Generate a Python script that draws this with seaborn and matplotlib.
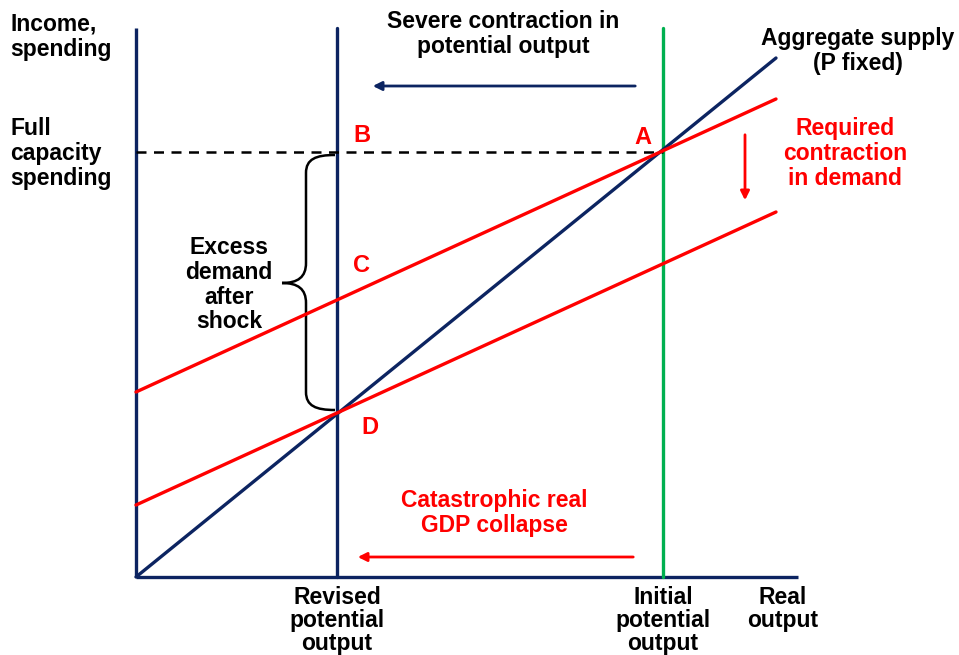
import numpy as np
import pandas as pd
import matplotlib.pyplot as plt
from matplotlib.path import Path
from matplotlib.patches import PathPatch
import seaborn as sns

sns.set_style("white")
plt.rcParams['font.family'] = ['Liberation Sans', 'DejaVu Sans']
plt.rcParams['font.weight'] = 'bold'
plt.rcParams['text.color'] = 'black'

NAVY = '#0c2461'
RED = '#ff0000'
GREEN = '#00b050'

# data (origin at the axes corner, output to the right, spending upward)
as_x = [0, 640]
as_y = [0, 519]
ad1_x = [0, 640]
ad1_y = [185, 478]
ad2_x = [0, 640]
ad2_y = [72, 365]
revised_x = 201
initial_x = 527
full_cap_y = 425
axis_top = 549
axis_right = 662

points = ['A', 'B', 'C', 'D']
point_x = [507, 226, 226, 234]
point_y = [440, 442, 311, 149]

fig = plt.figure(figsize=(9.59, 6.55), dpi=100)
ax = fig.add_axes([0, 0, 1, 1])
ax.set_xlim(-136, 823)
ax.set_ylim(-78, 577)
ax.axis('off')

lw = 2.4
# axes
ax.plot([0, 0], [0, axis_top], color=NAVY, lw=lw, solid_capstyle='butt')
ax.plot([0, axis_right], [0, 0], color=NAVY, lw=lw, solid_capstyle='butt')

# potential output lines
ax.plot([revised_x, revised_x], [0, axis_top], color=NAVY, lw=lw)
ax.plot([initial_x, initial_x], [0, axis_top], color=GREEN, lw=lw)

# full capacity dashed
ax.plot([0, initial_x], [full_cap_y, full_cap_y], color='black', lw=1.8,
        ls=(0, (4, 3)))

lines = pd.DataFrame({
    'x': as_x + ad1_x + ad2_x,
    'y': as_y + ad1_y + ad2_y,
    'name': ['AS'] * 2 + ['AD1'] * 2 + ['AD2'] * 2,
})
sns.lineplot(data=lines, x='x', y='y', hue='name', units='name', estimator=None,
             palette={'AS': NAVY, 'AD1': RED, 'AD2': RED}, lw=lw,
             legend=False, ax=ax, sort=False)

# arrows
ax.annotate('', xy=(234, 491), xytext=(502, 491),
            arrowprops=dict(arrowstyle='-|>', color=NAVY, lw=2, mutation_scale=13))
ax.annotate('', xy=(219, 20), xytext=(500, 20),
            arrowprops=dict(arrowstyle='-|>', color=RED, lw=2, mutation_scale=13))
ax.annotate('', xy=(609, 374), xytext=(609, 445),
            arrowprops=dict(arrowstyle='-|>', color=RED, lw=2, mutation_scale=13))

# brace
bx, tip_x = 170, 146
top, bot, mid = 422, 167, 294
verts = [(199, top), (180, top), (bx, top - 4), (bx, top - 18),
         (bx, mid + 20),
         (bx, mid + 6), (bx - 8, mid), (tip_x, mid),
         (bx - 8, mid), (bx, mid - 6), (bx, mid - 20),
         (bx, bot + 18),
         (bx, bot + 4), (180, bot), (199, bot)]
codes = [Path.MOVETO, Path.CURVE4, Path.CURVE4, Path.CURVE4,
         Path.LINETO,
         Path.CURVE4, Path.CURVE4, Path.CURVE4,
         Path.CURVE4, Path.CURVE4, Path.CURVE4,
         Path.LINETO,
         Path.CURVE4, Path.CURVE4, Path.CURVE4]
ax.add_patch(PathPatch(Path(verts, codes), fill=False, lw=1.8, color='black'))

fs = 16.5
txt = dict(fontsize=fs, fontweight='bold', linespacing=1.1)
ax.text(-126, 564, 'Income,\nspending', ha='left', va='top', **txt)
ax.text(-126, 460, 'Full\ncapacity\nspending', ha='left', va='top', **txt)
ax.text(367, 567, 'Severe contraction in\npotential output', ha='center', va='top', **txt)
ax.text(722, 550, 'Aggregate supply\n(P fixed)', ha='center', va='top', **txt)
ax.text(709, 460, 'Required\ncontraction\nin demand', ha='center', va='top', color=RED, **txt)
ax.text(93, 341, 'Excess\ndemand\nafter\nshock', ha='center', va='top', **txt)
ax.text(358, 88, 'Catastrophic real\nGDP collapse', ha='center', va='top', color=RED, **txt)

bot_txt = dict(fontsize=fs, fontweight='bold', linespacing=1.0)
ax.text(revised_x, -9, 'Revised\npotential\noutput', ha='center', va='top', **bot_txt)
ax.text(initial_x, -9, 'Initial\npotential\noutput', ha='center', va='top', **bot_txt)
ax.text(647, -9, 'Real\noutput', ha='center', va='top', **bot_txt)

for p, x, y in zip(points, point_x, point_y):
    ax.text(x, y, p, ha='center', va='center', color=RED, fontsize=17, fontweight='bold')

fig.savefig('out.png', dpi=100)
